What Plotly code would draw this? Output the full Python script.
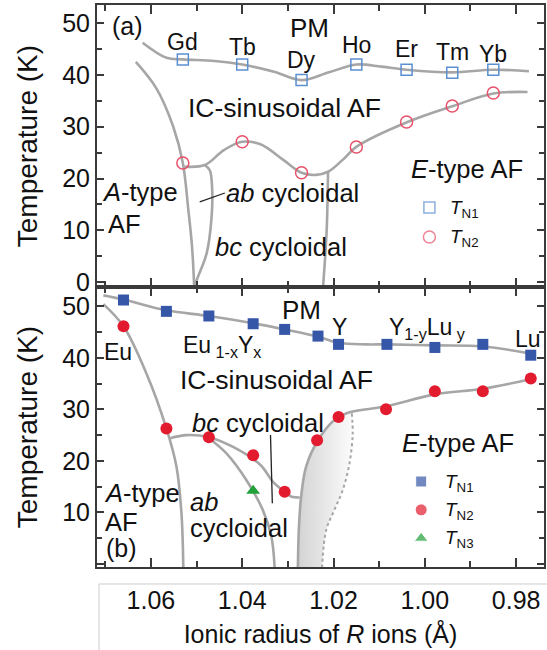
import plotly.graph_objects as go

FONT = "Liberation Sans, Arial, Helvetica, sans-serif"
GRAY = "#a6a6a6"
TXT = "#111111"

# ---------------- Panel (a) data ----------------
a_x = [1.053, 1.040, 1.027, 1.015, 1.004, 0.994, 0.985]
a_elems = ["Gd", "Tb", "Dy", "Ho", "Er", "Tm", "Yb"]
a_tn1 = [43.0, 42.0, 39.0, 42.0, 41.0, 40.4, 41.0]
a_tn2 = [23.0, 27.1, 21.1, 26.1, 30.9, 34.0, 36.5]
a_elem_label_y = [46.4, 45.4, 42.9, 45.8, 45.1, 44.5, 44.1]

# phase boundaries (a)
a_pm_x = [1.0618, 1.0566, 1.053, 1.046, 1.040, 1.033, 1.027, 1.021, 1.015, 1.0095, 1.004, 0.994, 0.985, 0.9772]
a_pm_y = [46.2, 43.3, 43.0, 42.7, 42.0, 40.6, 39.0, 40.5, 42.0, 41.6, 41.0, 40.5, 41.0, 40.7]
a_atype_x = [1.0633, 1.0588, 1.0551, 1.0530, 1.0518, 1.0510, 1.0505]
a_atype_y = [42.5, 37.4, 30.0, 23.0, 14.0, 7.0, -1.0]
a_tn2line_x = [1.0526, 1.0482, 1.044, 1.040, 1.036, 1.031, 1.027, 1.0238, 1.0212, 1.018, 1.015, 1.0038, 0.9938, 0.985, 0.9775]
a_tn2line_y = [22.3, 22.6, 25.5, 27.1, 26.6, 23.6, 21.1, 20.7, 21.3, 23.6, 26.1, 30.9, 34.0, 36.4, 36.7]
a_abbc_x = [1.0482, 1.0471, 1.0466, 1.0467, 1.0478, 1.0497, 1.0505]
a_abbc_y = [22.6, 21.6, 18.4, 12.6, 5.5, 1.0, -1.0]
a_vert_x = [1.0212, 1.0215, 1.0223]
a_vert_y = [21.3, 10.0, -1.0]
a_ptr_x = [1.0493, 1.0438]
a_ptr_y = [15.5, 17.2]

# ---------------- Panel (b) data ----------------
b_x = [1.066, 1.0566, 1.0473, 1.0376, 1.0307, 1.0234, 1.0189, 1.0083, 0.9978, 0.9873, 0.9768]
b_tn1 = [51.2, 49.0, 48.1, 46.6, 45.5, 44.2, 42.6, 42.6, 42.0, 42.6, 40.5]
b_tn2_x = [1.066, 1.0566, 1.0473, 1.0376, 1.0307, 1.0236, 1.0189, 1.0085, 0.9978, 0.9873, 0.9768]
b_tn2 = [46.1, 26.3, 24.6, 21.1, 14.0, 24.0, 28.5, 30.0, 33.5, 33.5, 36.0]
b_tn3_x = [1.0376]
b_tn3 = [14.2]

b_pm_x = [1.0704, 1.066, 1.0566, 1.0473, 1.0376, 1.0307, 1.0234, 1.0189, 1.013, 1.0083, 0.9978, 0.9873, 0.9768]
b_pm_y = [52.1, 51.3, 49.2, 48.1, 46.7, 45.5, 44.1, 42.9, 42.6, 42.6, 42.4, 42.2, 40.8]
b_atype_x = [1.0704, 1.066, 1.0610, 1.0566, 1.0544, 1.0533, 1.0529]
b_atype_y = [50.4, 46.1, 37.0, 26.3, 18.9, 9.8, -0.6]
b_bc_x = [1.0558, 1.0522, 1.0473, 1.042, 1.036, 1.0333, 1.0307, 1.0293, 1.0274]
b_bc_y = [24.4, 25.0, 24.6, 22.7, 19.2, 16.0, 14.0, 13.1, 12.9]
b_ab_x = [1.0470, 1.0435, 1.0391, 1.0355, 1.0336, 1.0329]
b_ab_y = [24.2, 21.5, 16.3, 10.5, 5.3, -0.6]
b_shade_left_x = [1.0278, 1.0276, 1.0271, 1.0260, 1.0234, 1.0200, 1.0170, 1.0085, 0.9978, 0.9873, 0.9771]
b_shade_left_y = [-0.6, 6.6, 13.0, 18.9, 24.0, 27.8, 29.3, 30.6, 32.9, 34.0, 35.8]
b_dot_x = [1.0160, 1.0158, 1.0165, 1.0180, 1.0198, 1.0216, 1.0225]
b_dot_y = [29.2, 25.3, 19.5, 14.3, 10.5, 6.6, -0.6]
b_ptr_x = [1.0338, 1.0334]
b_ptr_y = [25.0, 11.8]

fig = go.Figure()


def line(x, y, xa, ya, color=GRAY, width=2.6, dash=None, shape="spline"):
    fig.add_trace(go.Scatter(x=x, y=y, xaxis=xa, yaxis=ya, mode="lines",
                             line=dict(color=color, width=width, dash=dash, shape=shape, smoothing=1.0),
                             hoverinfo="skip", showlegend=False))


# shaded region (b)
sh_x = b_shade_left_x[:7] + b_dot_x
sh_y = b_shade_left_y[:7] + b_dot_y
fig.add_trace(go.Scatter(x=sh_x, y=sh_y, xaxis="x2", yaxis="y2", mode="lines", fill="toself",
                         line=dict(width=0, shape="spline"),
                         fillgradient=dict(type="horizontal", start=1.0278, stop=1.0150,
                                           colorscale=[[0, "#d4d4d4"], [1, "#ffffff"]]),
                         hoverinfo="skip", showlegend=False))

# panel (a) lines
line(a_pm_x, a_pm_y, "x", "y")
line(a_atype_x, a_atype_y, "x", "y")
line(a_tn2line_x, a_tn2line_y, "x", "y")
line(a_abbc_x, a_abbc_y, "x", "y")
line(a_vert_x, a_vert_y, "x", "y")
line(a_ptr_x, a_ptr_y, "x", "y", color="#222222", width=1.3, shape="linear")

# panel (b) lines
line(b_pm_x, b_pm_y, "x2", "y2")
line(b_atype_x, b_atype_y, "x2", "y2")
line(b_bc_x, b_bc_y, "x2", "y2")
line(b_ab_x, b_ab_y, "x2", "y2")
line(b_shade_left_x, b_shade_left_y, "x2", "y2")
line(b_dot_x, b_dot_y, "x2", "y2", width=2, dash="dot")
line(b_ptr_x, b_ptr_y, "x2", "y2", color="#222222", width=1.3, shape="linear")

# markers (a)
fig.add_trace(go.Scatter(x=a_x, y=a_tn1, xaxis="x", yaxis="y", mode="markers",
                         marker=dict(symbol="square-open", size=11, color="#5a8fd2", line=dict(width=1.5)),
                         showlegend=False))
fig.add_trace(go.Scatter(x=a_x, y=a_tn2, xaxis="x", yaxis="y", mode="markers",
                         marker=dict(symbol="circle-open", size=12, color="#e8506a", line=dict(width=1.5)),
                         showlegend=False))
# markers (b)
fig.add_trace(go.Scatter(x=b_x, y=b_tn1, xaxis="x2", yaxis="y2", mode="markers",
                         marker=dict(symbol="square", size=11, color="#3656a8"), showlegend=False))
fig.add_trace(go.Scatter(x=b_tn2_x, y=b_tn2, xaxis="x2", yaxis="y2", mode="markers",
                         marker=dict(symbol="circle", size=12, color="#e31b2e"), showlegend=False))
fig.add_trace(go.Scatter(x=b_tn3_x, y=b_tn3, xaxis="x2", yaxis="y2", mode="markers",
                         marker=dict(symbol="triangle-up", size=12, color="#22a03a"), showlegend=False))

# legend markers as data points
fig.add_trace(go.Scatter(x=[0.999, 0.999], y=[14.4, 8.7], xaxis="x", yaxis="y", mode="markers",
                         marker=dict(symbol=["square-open", "circle-open"], size=[11, 12],
                                     color=["#5a8fd2", "#e8506a"], line=dict(width=1.5)), showlegend=False))
fig.add_trace(go.Scatter(x=[1.0008, 1.0008, 1.0008], y=[16.0, 10.5, 5.0], xaxis="x2", yaxis="y2", mode="markers",
                         marker=dict(symbol=["square", "circle", "triangle-up"], size=[11, 12, 12],
                                     color=["#3656a8", "#e31b2e", "#22a03a"]), showlegend=False))

ann = []


def txt(x, y, s, xr="x", yr="y", size=25.5, xanchor="center"):
    ann.append(dict(x=x, y=y, xref=xr, yref=yr, text=s, showarrow=False, xanchor=xanchor, yanchor="middle",
                    font=dict(family=FONT, size=size, color=TXT)))


# panel (a) text
txt(1.0652, 49.4, "(a)", size=25)
for xe, ye, name in zip(a_x, a_elem_label_y, a_elems):
    txt(xe, ye, name, size=23)
txt(1.0252, 49.0, "PM", size=26)
txt(1.0307, 33.6, "IC-sinusoidal AF", size=26.5)
txt(1.0624, 17.4, "<i>A</i>-type")
txt(1.0657, 11.3, "AF")
txt(1.0290, 17.2, "<i>ab</i> cycloidal")
txt(1.0314, 6.8, "<i>bc</i> cycloidal")
txt(0.9907, 21.9, "<i>E</i>-type AF")
txt(0.9950, 14.2, "<i>T</i><sub>N1</sub>", size=19, xanchor="left")
txt(0.9950, 8.5, "<i>T</i><sub>N2</sub>", size=19, xanchor="left")

# panel (b) text
txt(1.0671, 41.1, "Eu", "x2", "y2", size=23)
txt(1.0444, 42.2, "Eu<sub> 1-x</sub>Y<sub>x</sub>", "x2", "y2", size=23)
txt(1.0271, 49.2, "PM", "x2", "y2", size=26)
txt(1.0187, 46.0, "Y", "x2", "y2", size=23)
txt(0.9995, 45.6, "Y<sub>1-y</sub>Lu<sub> y</sub>", "x2", "y2", size=23)
txt(0.9775, 43.7, "Lu", "x2", "y2", size=23)
txt(1.0324, 35.7, "IC-sinusoidal AF", "x2", "y2", size=26.5)
txt(1.0365, 27.3, "<i>bc</i> cycloidal", "x2", "y2")
txt(1.0620, 13.7, "<i>A</i>-type", "x2", "y2")
txt(1.0664, 8.2, "AF", "x2", "y2")
txt(1.0664, 3.2, "(b)", "x2", "y2", size=25)
txt(1.0518, 12.1, "<i>ab</i>", "x2", "y2", xanchor="left")
txt(1.0518, 6.9, "cycloidal", "x2", "y2", xanchor="left")
txt(0.9927, 23.4, "<i>E</i>-type AF", "x2", "y2")
txt(0.9961, 15.8, "<i>T</i><sub>N1</sub>", "x2", "y2", size=19, xanchor="left")
txt(0.9961, 10.3, "<i>T</i><sub>N2</sub>", "x2", "y2", size=19, xanchor="left")
txt(0.9961, 4.8, "<i>T</i><sub>N3</sub>", "x2", "y2", size=19, xanchor="left")

XR = [1.0718, 0.9739]
frame = dict(showline=True, linecolor="#3a3a3a", linewidth=2, mirror="ticks", ticks="inside",
             tickcolor="#3a3a3a", tickwidth=1.6, showgrid=False, zeroline=False)
xcommon = dict(frame, range=XR, tick0=1.0, dtick=0.02, ticklen=9,
               minor=dict(dtick=0.01, tick0=1.0, ticklen=6, ticks="inside", tickcolor="#3a3a3a", tickwidth=1.6))
ycommon = dict(frame, ticklen=7,
               minor=dict(dtick=5, tick0=0, ticklen=5, ticks="inside", tickcolor="#3a3a3a", tickwidth=1.6),
               tickfont=dict(family=FONT, size=25, color=TXT),
               title=dict(text="Temperature (K)", font=dict(family=FONT, size=28, color=TXT), standoff=16))

fig.update_layout(
    width=547, height=650,
    margin=dict(l=97, r=1, t=5, b=83),
    paper_bgcolor="white", plot_bgcolor="white",
    showlegend=False,
    xaxis=dict(xcommon, anchor="y", showticklabels=False),
    yaxis=dict(ycommon, domain=[0.498, 1.0], anchor="x", range=[-0.97, 53.5], tick0=0, dtick=10),
    xaxis2=dict(xcommon, anchor="y2", matches="x", showticklabels=True, tickformat=".2f",
                tickfont=dict(family=FONT, size=25, color=TXT), ticklabelstandoff=10,
                title=dict(text="Ionic radius of <i>R</i> ions (Å)", font=dict(family=FONT, size=25, color=TXT),
                           standoff=12)),
    yaxis2=dict(ycommon, domain=[0.0, 0.498], anchor="x2", range=[-0.58, 53.7],
                tickvals=[0, 10, 20, 30, 40, 50], ticktext=["", "10", "20", "30", "40", "50"]),
    annotations=ann,
    shapes=[dict(type="rect", xref="paper", yref="paper", x0=0.0045, x1=1.02, y0=-0.2, y1=-0.0302,
                 line=dict(color="#cccccc", width=1), fillcolor="rgba(0,0,0,0)", layer="below")],
)

fig.write_html("out.html")
